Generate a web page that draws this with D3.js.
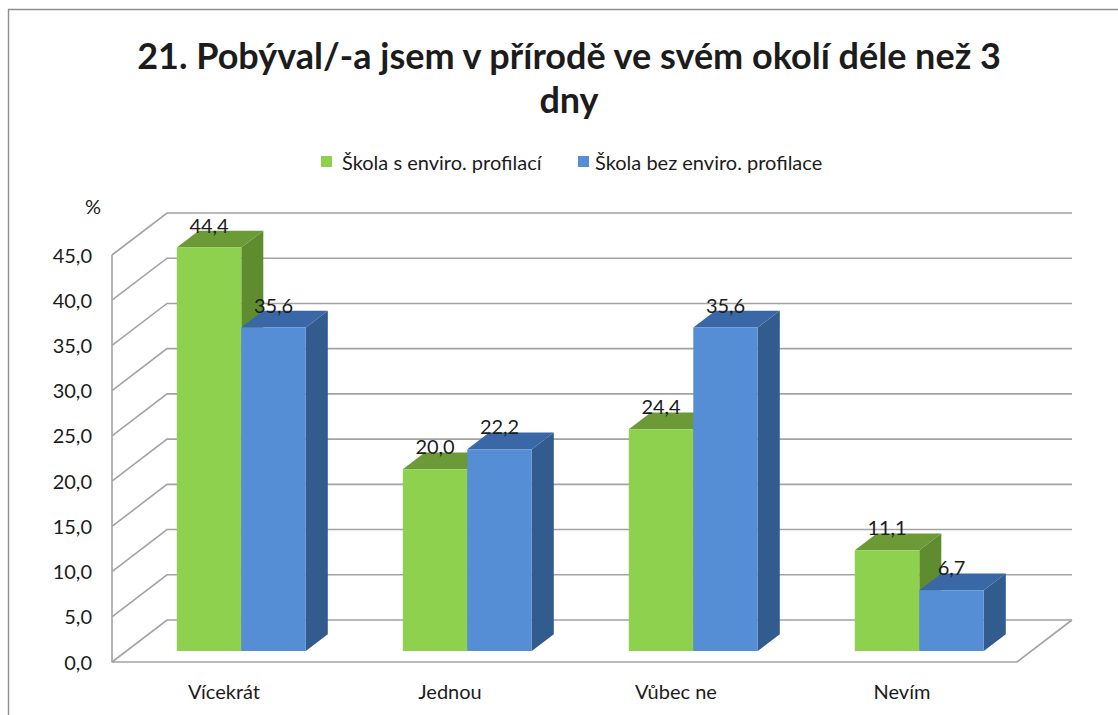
<!DOCTYPE html>
<html><head><meta charset="utf-8">
<script src="https://cdn.jsdelivr.net/npm/d3@7"></script>
<style>html,body{margin:0;padding:0;background:#fff}svg{display:block}text{font-family:Lato,"Open Sans",sans-serif;fill:#1c1c1c}</style>
</head><body><svg id="c" width="1118" height="715"></svg>
<script>
const categories = ["Vícekrát","Jednou","Vůbec ne","Nevím"];
const seriesNames = ["Škola s enviro. profilací","Škola bez enviro. profilace"];
const seriesA = [44.4,20.0,24.4,11.1];
const seriesB = [35.6,22.2,35.6,6.7];
const yTicks = [0,5,10,15,20,25,30,35,40,45];
const titleLines = ["21. Pobýval/-a jsem v přírodě ve svém okolí déle než 3","dny"];
const unitLabel = "%";
const fmt = v => v.toFixed(1).replace(".",",");

const svg = d3.select("#c");
const W=1118,H=715;
svg.append("rect").attr("width",W).attr("height",H).attr("fill","#fff");
// outer frame
svg.append("path").attr("d","M8.5,715V9.5H1118").attr("fill","none").attr("stroke","#8f8f8f").attr("stroke-width",1.4);

// oblique projection: depth d 0 (front) .. 1 (back)
const y = d3.scaleLinear().domain([0,45]).range([662,255]);
const yBar = d3.scaleLinear().domain([0,45]).range([662,253]);
const x0 = d3.scaleBand().domain(categories).range([114,1018]);
const x1 = d3.scaleBand().domain([0,1]).range([48.5,177.5]);
const depth = d3.scaleLinear().domain([0,1]).range([0,55]);
const rise = d3.scaleLinear().domain([0,1]).range([0,42]);
const P = (px,v,d,s=y)=>[px+depth(d), s(v)-rise(d)];
const left=112,right=1017;
const poly = pts=>"M"+pts.map(p=>p.join(",")).join("L")+"Z";
const grid = svg.append("g").attr("fill","none").attr("stroke","#a3a3a3").attr("stroke-width",1.6);
// walls
yTicks.forEach(t=>{
  grid.append("path").attr("d",d3.line()([P(left,t,0),P(left,t,1),P(right,t,1)]));
});
grid.append("path").attr("d",d3.line()([P(left,45,0),P(left,0,0),P(right,0,0),P(right,0,1)]));

// bars
const d0=0.26,d1=0.66;
const series=[{v:seriesA,front:"#8ed14f",top:"#6b9a36",side:"#5f8c2f"},{v:seriesB,front:"#558ed5",top:"#3a67a5",side:"#325c8d"}];
const bars=svg.append("g");
categories.forEach((c,i)=>{
  series.forEach((s,j)=>{
    const a=x0(c)+x1(j), b=a+x1.bandwidth(), v=s.v[i];
    const g=bars.append("g");
    g.append("path").attr("fill",s.side).attr("d",poly([P(b,0,d0,yBar),P(b,0,d1,yBar),P(b,v,d1,yBar),P(b,v,d0,yBar)]));
    g.append("path").attr("fill",s.top).attr("d",poly([P(a,v,d0,yBar),P(a,v,d1,yBar),P(b,v,d1,yBar),P(b,v,d0,yBar)]));
    g.append("path").attr("fill",s.front).attr("d",poly([P(a,0,d0,yBar),P(b,0,d0,yBar),P(b,v,d0,yBar),P(a,v,d0,yBar)]));
  });
});
// data labels
categories.forEach((c,i)=>{
  series.forEach((s,j)=>{
    const a=x0(c)+x1(j), v=s.v[i];
    const p=P(a+x1.bandwidth()/2,v,d0,yBar);
    svg.append("text").attr("x",p[0]).attr("y",p[1]-15).attr("text-anchor","middle").attr("font-size",20).text(fmt(v));
  });
});
// y ticks
yTicks.forEach(t=>svg.append("text").attr("x",92).attr("y",y(t)+7.5).attr("text-anchor","end").attr("font-size",20).text(fmt(t)));
svg.append("text").attr("x",93).attr("y",214).attr("text-anchor","middle").attr("font-size",20).text(unitLabel);
// x labels
categories.forEach(c=>svg.append("text").attr("x",x0(c)+x0.bandwidth()/2-3).attr("y",699).attr("text-anchor","middle").attr("font-size",20).text(c));
// title
titleLines.forEach((t,i)=>svg.append("text").attr("x",569).attr("y",[69,113][i]).attr("text-anchor","middle").attr("font-size",36).attr("font-weight",700).attr("fill","#111").text(t));
// legend
[[321,"#8ed14f",342],[578,"#558ed5",595]].forEach((l,i)=>{
  svg.append("rect").attr("x",l[0]).attr("y",156).attr("width",11).attr("height",11).attr("fill",l[1]);
  svg.append("text").attr("x",l[2]).attr("y",169.5).attr("font-size",20).text(seriesNames[i]);
});
</script></body></html>
